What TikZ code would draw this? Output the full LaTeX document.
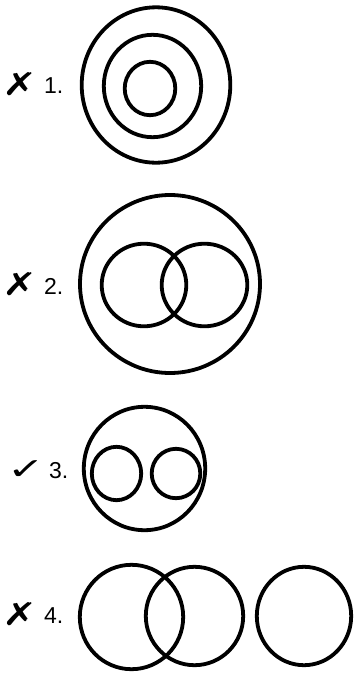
\documentclass[tikz,border=0pt]{standalone}
\usepackage{fontspec}
\setmainfont{Liberation Sans}
\newfontfamily\symfont{DejaVu Sans}
\begin{document}
\begin{tikzpicture}[x=1pt,y=-1pt,
  ring/.style={draw=black,line width=3.8pt},
  lbl/.style={anchor=west,inner sep=0pt,font=\fontsize{23}{26}\selectfont},
  tick/.style={inner sep=0pt,font=\symfont\fontsize{30}{34}\selectfont}]
\useasboundingbox[fill=white] (0,0) rectangle (354,678);
% Figure 1
\node[tick] (m1) at (20,84) {\scalebox{1.4}[1.05]{✗}};
\node[lbl] (l1) at (44,86) {1.};
\draw[ring] (156,85) ellipse [x radius=74.3, y radius=77.7];
\draw[ring] (152.5,86) ellipse [x radius=48.7, y radius=51.2];
\draw[ring] (150,88.5) ellipse [x radius=25.3, y radius=26.7];
% Figure 2
\node[tick] (m2) at (20,284) {\scalebox{1.4}[1.05]{✗}};
\node[lbl] (l2) at (44,286) {2.};
\draw[ring] (170,284) ellipse [x radius=90, y radius=89];
\draw[ring] (144,285) ellipse [x radius=42.3, y radius=41.3];
\draw[ring] (204.5,285) ellipse [x radius=42.8, y radius=41.3];
% Figure 3
\node[tick] (m3) at (26,470) {\scalebox{1.5}[1.0]{✓}};
\node[lbl] (l3) at (49,471) {3.};
\draw[ring] (144.5,468.5) ellipse [x radius=60.7, y radius=61.7];
\draw[ring] (116.5,473.5) ellipse [x radius=24.7, y radius=26.7];
\draw[ring] (176,473.5) ellipse [x radius=24.3, y radius=24.7];
% Figure 4
\node[tick] (m4) at (20,614) {\scalebox{1.4}[1.05]{✗}};
\node[lbl] (l4) at (44,616) {4.};
\draw[ring] (131.5,617) ellipse [x radius=51.7, y radius=52.2];
\draw[ring] (194.5,616) ellipse [x radius=48.7, y radius=49.2];
\draw[ring] (304,616) ellipse [x radius=47.2, y radius=49.2];
\end{tikzpicture}
\end{document}
